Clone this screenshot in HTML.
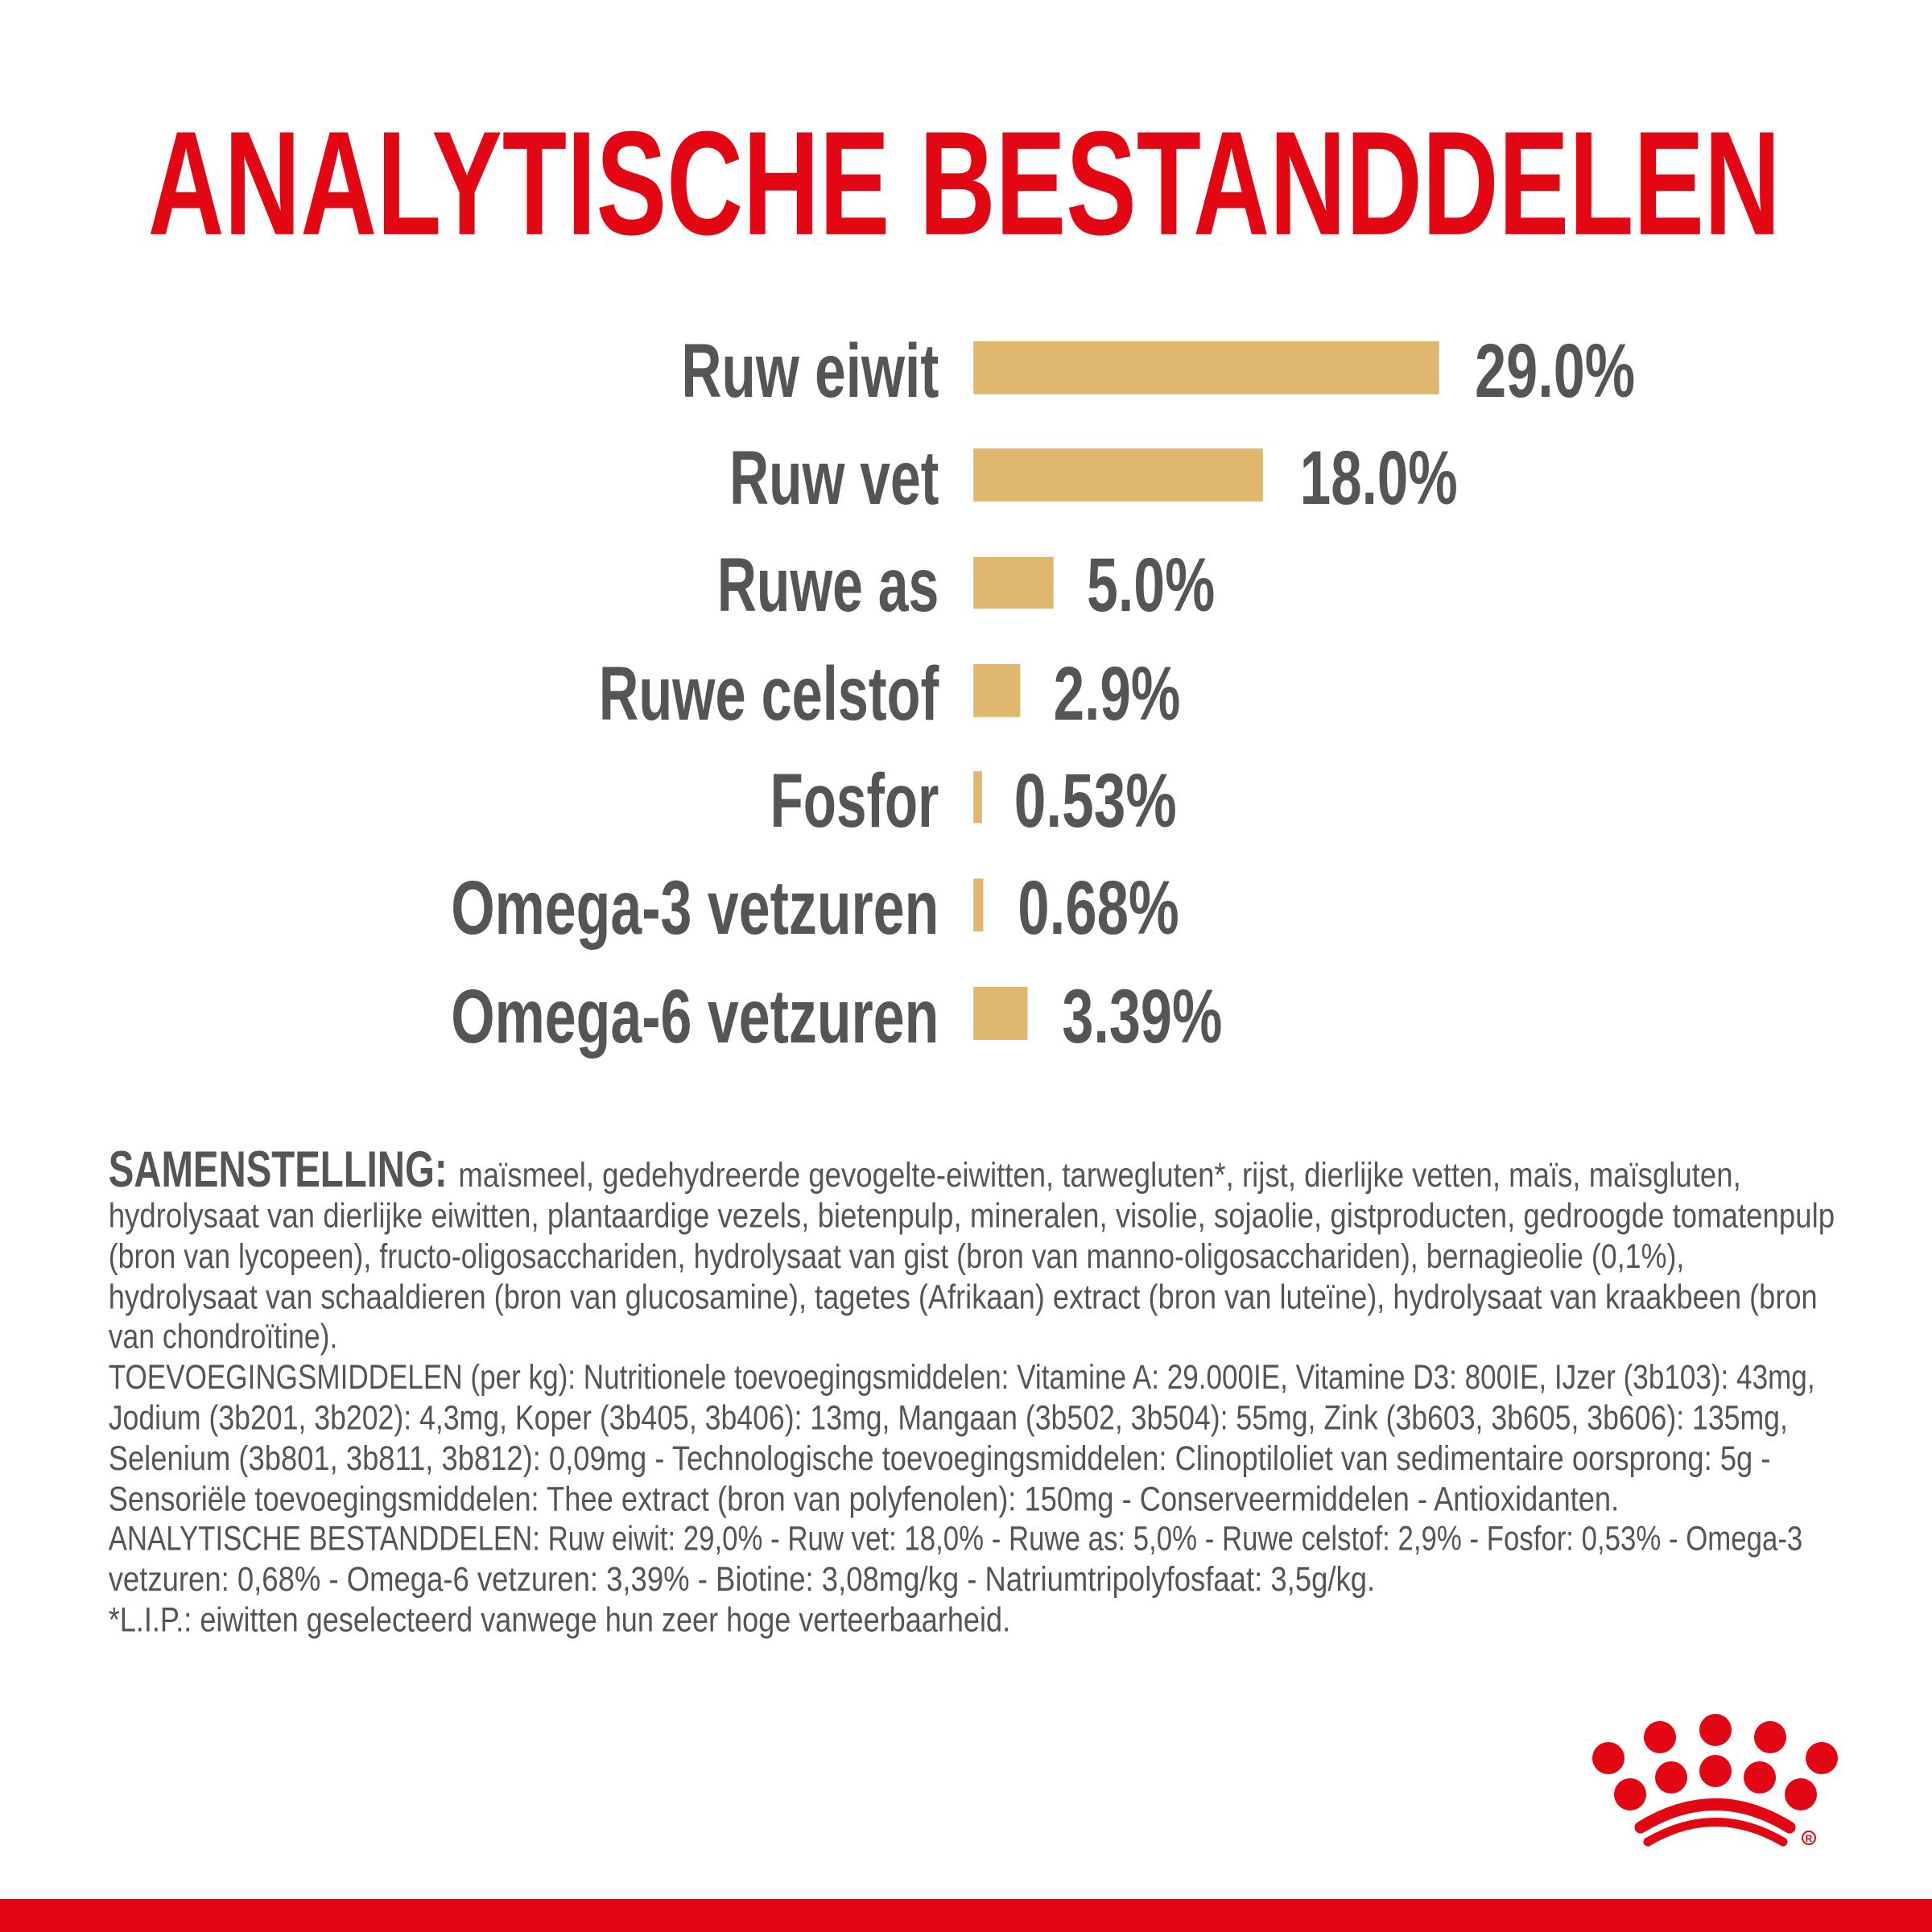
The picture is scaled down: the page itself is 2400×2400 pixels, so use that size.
<!DOCTYPE html>
<html><head><meta charset="utf-8"><style>
html,body{margin:0;padding:0;background:#fff;}
svg{display:block;}
.t{font-family:"Liberation Sans",sans-serif;}
</style></head><body>
<svg width="2400" height="2400" viewBox="0 0 2400 2400" xmlns="http://www.w3.org/2000/svg">
<rect width="2400" height="2400" fill="#fff"/>
<g transform="scale(1.530612)">
<text class="t" x="120" y="190" font-size="120" font-weight="bold" fill="#e30613" textLength="1325" lengthAdjust="spacingAndGlyphs">ANALYTISCHE BESTANDDELEN</text>
<g fill="#e0b76f">
<rect x="790" y="277" width="378" height="43"/>
<rect x="790" y="364" width="235" height="43"/>
<rect x="790" y="452" width="65" height="42"/>
<rect x="790" y="539" width="38" height="43"/>
<rect x="790" y="626" width="7" height="42"/>
<rect x="790" y="713" width="8" height="43"/>
<rect x="790" y="801" width="44" height="43"/>
</g>
<g class="t" font-size="62" font-weight="bold" fill="#555">
<text x="762" y="322" text-anchor="end" textLength="209" lengthAdjust="spacingAndGlyphs">Ruw eiwit</text>
<text x="762" y="409" text-anchor="end" textLength="170" lengthAdjust="spacingAndGlyphs">Ruw vet</text>
<text x="762" y="496" text-anchor="end" textLength="180" lengthAdjust="spacingAndGlyphs">Ruwe as</text>
<text x="762" y="584" text-anchor="end" textLength="276" lengthAdjust="spacingAndGlyphs">Ruwe celstof</text>
<text x="762" y="671" text-anchor="end" textLength="137" lengthAdjust="spacingAndGlyphs">Fosfor</text>
<text x="762" y="758" text-anchor="end" textLength="396" lengthAdjust="spacingAndGlyphs">Omega-3 vetzuren</text>
<text x="762" y="846" text-anchor="end" textLength="396" lengthAdjust="spacingAndGlyphs">Omega-6 vetzuren</text>
<text x="1197" y="322" textLength="130" lengthAdjust="spacingAndGlyphs">29.0%</text>
<text x="1055" y="409" textLength="128" lengthAdjust="spacingAndGlyphs">18.0%</text>
<text x="882" y="496" textLength="104" lengthAdjust="spacingAndGlyphs">5.0%</text>
<text x="855" y="584" textLength="103" lengthAdjust="spacingAndGlyphs">2.9%</text>
<text x="823" y="671" textLength="132" lengthAdjust="spacingAndGlyphs">0.53%</text>
<text x="826" y="758" textLength="131" lengthAdjust="spacingAndGlyphs">0.68%</text>
<text x="862" y="846" textLength="130" lengthAdjust="spacingAndGlyphs">3.39%</text>
</g>
<g class="t" fill="#555" font-size="28">
<text x="88" y="963" font-size="41" font-weight="bold" textLength="275" lengthAdjust="spacingAndGlyphs">SAMENSTELLING:</text>
<text x="372" y="963" textLength="1041" lengthAdjust="spacingAndGlyphs">maïsmeel, gedehydreerde gevogelte-eiwitten, tarwegluten*, rijst, dierlijke vetten, maïs, maïsgluten,</text>
<text x="88" y="996" textLength="1401" lengthAdjust="spacingAndGlyphs">hydrolysaat van dierlijke eiwitten, plantaardige vezels, bietenpulp, mineralen, visolie, sojaolie, gistproducten, gedroogde tomatenpulp</text>
<text x="88" y="1029" textLength="1279" lengthAdjust="spacingAndGlyphs">(bron van lycopeen), fructo-oligosacchariden, hydrolysaat van gist (bron van manno-oligosacchariden), bernagieolie (0,1%),</text>
<text x="88" y="1062" textLength="1387" lengthAdjust="spacingAndGlyphs">hydrolysaat van schaaldieren (bron van glucosamine), tagetes (Afrikaan) extract (bron van luteïne), hydrolysaat van kraakbeen (bron</text>
<text x="88" y="1094" textLength="186" lengthAdjust="spacingAndGlyphs">van chondroïtine).</text>
<text x="88" y="1127" textLength="1385" lengthAdjust="spacingAndGlyphs">TOEVOEGINGSMIDDELEN (per kg): Nutritionele toevoegingsmiddelen: Vitamine A: 29.000IE, Vitamine D3: 800IE, IJzer (3b103): 43mg,</text>
<text x="88" y="1160" textLength="1363" lengthAdjust="spacingAndGlyphs">Jodium (3b201, 3b202): 4,3mg, Koper (3b405, 3b406): 13mg, Mangaan (3b502, 3b504): 55mg, Zink (3b603, 3b605, 3b606): 135mg,</text>
<text x="88" y="1193" textLength="1349" lengthAdjust="spacingAndGlyphs">Selenium (3b801, 3b811, 3b812): 0,09mg - Technologische toevoegingsmiddelen: Clinoptiloliet van sedimentaire oorsprong: 5g -</text>
<text x="88" y="1226" textLength="1226" lengthAdjust="spacingAndGlyphs">Sensoriële toevoegingsmiddelen: Thee extract (bron van polyfenolen): 150mg - Conserveermiddelen - Antioxidanten.</text>
<text x="88" y="1258" textLength="1375" lengthAdjust="spacingAndGlyphs">ANALYTISCHE BESTANDDELEN: Ruw eiwit: 29,0% - Ruw vet: 18,0% - Ruwe as: 5,0% - Ruwe celstof: 2,9% - Fosfor: 0,53% - Omega-3</text>
<text x="88" y="1291" textLength="1028" lengthAdjust="spacingAndGlyphs">vetzuren: 0,68% - Omega-6 vetzuren: 3,39% - Biotine: 3,08mg/kg - Natriumtripolyfosfaat: 3,5g/kg.</text>
<text x="88" y="1324" textLength="732" lengthAdjust="spacingAndGlyphs">*L.I.P.: eiwitten geselecteerd vanwege hun zeer hoge verteerbaarheid.</text>
</g>
</g>
<g fill="#e30613">
<circle cx="1998" cy="2184" r="20"/><circle cx="2062" cy="2158" r="20"/><circle cx="2131" cy="2149" r="20"/><circle cx="2199" cy="2158" r="20"/><circle cx="2263" cy="2184" r="20"/>
<circle cx="2025" cy="2229" r="20"/><circle cx="2076" cy="2208" r="20"/><circle cx="2131" cy="2200" r="20"/><circle cx="2186" cy="2208" r="20"/><circle cx="2237" cy="2229" r="20"/>
</g>
<path d="M2038 2270 Q2131 2213 2223 2270" stroke="#e30613" stroke-width="15" fill="none" stroke-linecap="round"/>
<path d="M2047 2288 Q2131 2239 2215 2288" stroke="#e30613" stroke-width="11" fill="none" stroke-linecap="round"/>
<circle cx="2247" cy="2283" r="8" fill="none" stroke="#e30613" stroke-width="2"/>
<text class="t" x="2247" y="2288" font-size="12" font-weight="bold" fill="#e30613" text-anchor="middle">R</text>
<rect x="0" y="2359" width="2400" height="41" fill="#e30613"/>
</svg>
</body></html>
